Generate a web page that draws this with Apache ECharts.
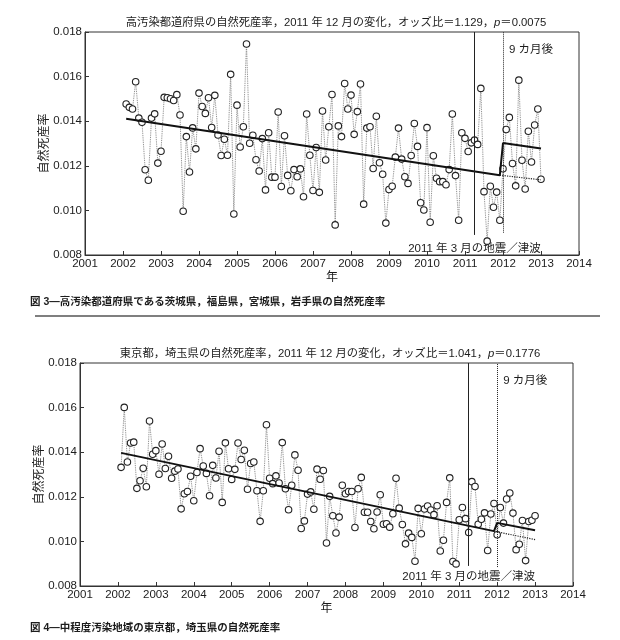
<!DOCTYPE html>
<html><head><meta charset="utf-8">
<script src="https://cdn.jsdelivr.net/npm/echarts@6/dist/echarts.min.js"></script>
<style>html,body{margin:0;padding:0;background:#fff}#c{width:620px;height:640px}</style>
</head><body><div id="c"></div>
<script>
// month m (1 = Jan 2002) is plotted at startYear + m/12
const startYear = 2002;
// 高汚染都道府県 (茨城・福島・宮城・岩手) monthly stillbirth rate, Jan 2002 – Dec 2012
const rateHigh = [
 0.01477,0.01462,0.01455,0.01577,0.01414,0.01395,0.01182,0.01135,0.01414,0.01433,0.01212,0.01265,
 0.01507,0.01505,0.01501,0.01493,0.01519,0.01428,0.00996,0.01331,0.01172,0.01370,0.01276,0.01526,
 0.01466,0.01435,0.01505,0.01372,0.01516,0.01338,0.01246,0.01319,0.01247,0.01610,0.00984,0.01472,
 0.01284,0.01375,0.01746,0.01301,0.01337,0.01227,0.01177,0.01322,0.01092,0.01348,0.01149,0.01149,
 0.01441,0.01107,0.01335,0.01157,0.01088,0.01183,0.01151,0.01186,0.01061,0.01432,0.01247,0.01089,
 0.01282,0.01081,0.01446,0.01226,0.01375,0.01520,0.00935,0.01379,0.01331,0.01569,0.01455,0.01517,
 0.01341,0.01443,0.01567,0.01028,0.01369,0.01375,0.01188,0.01422,0.01214,0.01162,0.00943,0.01094,
 0.01108,0.01239,0.01369,0.01230,0.01151,0.01121,0.01246,0.01390,0.01287,0.01034,0.01002,0.01371,
 0.00947,0.01245,0.01144,0.01129,0.01129,0.01115,0.01183,0.01432,0.01156,0.00956,0.01348,0.01323,
 0.01264,0.01303,0.01315,0.01296,0.01547,0.01084,0.00862,0.01108,0.01014,0.01082,0.00956,0.01187,
 0.01363,0.01417,0.01210,0.01110,0.01584,0.01225,0.01096,0.01355,0.01217,0.01383,0.01455,0.01140];
// 東京都・埼玉県 monthly stillbirth rate, Jan 2002 – Dec 2012
const rateMid = [
 0.01332,0.01601,0.01356,0.01441,0.01445,0.01238,0.01272,0.01328,0.01245,0.01540,0.01391,0.01407,
 0.01301,0.01437,0.01327,0.01382,0.01283,0.01315,0.01325,0.01146,0.01214,0.01224,0.01292,0.01182,
 0.01309,0.01416,0.01338,0.01305,0.01205,0.01341,0.01284,0.01404,0.01175,0.01442,0.01326,0.01278,
 0.01323,0.01441,0.01367,0.01409,0.01234,0.01349,0.01356,0.01227,0.01090,0.01227,0.01523,0.01283,
 0.01259,0.01294,0.01262,0.01443,0.01236,0.01142,0.01252,0.01388,0.01319,0.01058,0.01092,0.01212,
 0.01222,0.01144,0.01324,0.01279,0.01318,0.00993,0.01202,0.01115,0.01038,0.01109,0.01252,0.01214,
 0.01224,0.01224,0.01062,0.01236,0.01287,0.01131,0.01131,0.01089,0.01057,0.01132,0.01209,0.01077,
 0.01079,0.01064,0.01124,0.01283,0.01149,0.01076,0.00989,0.01037,0.01018,0.00911,0.01148,0.01034,
 0.01145,0.01159,0.01141,0.01120,0.01160,0.00957,0.01005,0.01175,0.01285,0.00910,0.00899,0.01097,
 0.01152,0.01102,0.01040,0.01268,0.01246,0.01077,0.01099,0.01128,0.00959,0.01123,0.01170,0.01030,
 0.01152,0.01082,0.01190,0.01217,0.01127,0.00963,0.00987,0.01094,0.00914,0.01089,0.01095,0.01115];
// fitted trend (solid) and no-change continuation (dotted)
const trendHighMonths = [1, 119, 120, 132];
const trendHighVals   = [0.01411, 0.01158, 0.01302, 0.01278];
const cfHighMonths = [119, 132];
const cfHighVals   = [0.01158, 0.01137];
const trendMidMonths = [1, 119, 120, 132];
const trendMidVals   = [0.01397, 0.01046, 0.01083, 0.01050];
const cfMidMonths = [119, 132];
const cfMidVals   = [0.01046, 0.01008];
// event lines: March 2011 earthquake, December 2011 (9 months later)
const quakeMonth = 111, laterMonth = 120;
const quakeLineLow = [0.0089, 0.0089];
const laterLineLow = [0.0090, 0.00885];
// axes
const yearMin = 2001, yearMax = 2014, yearStep = 1;
const rateMin = 0.008, rateMax = 0.018, rateStep = 0.002;
// texts
const titleHigh = ['高汚染都道府県の自然死産率，2011 年 12 月の変化，オッズ比＝1.129，', 'p', '＝0.0075'];
const titleMid  = ['東京都，埼玉県の自然死産率，2011 年 12 月の変化，オッズ比＝1.041，', 'p', '＝0.1776'];
const captionHigh = '図 3—高汚染都道府県である茨城県，福島県，宮城県，岩手県の自然死産率';
const captionMid  = '図 4—中程度汚染地域の東京都，埼玉県の自然死産率';
const quakeText = '2011 年 3 月の地震／津波';
const laterText = '9 カ月後';

const FONT = '"Liberation Sans", "Noto Sans CJK JP", sans-serif';
const INK = '#1c1c1c';
const xOf = m => startYear + m / 12;
const pairs = (ms, vs) => ms.map((m, i) => [xOf(m), vs[i]]);

const chart = echarts.init(document.getElementById('c'));
const grids = [
  {left: 85, right: 41, top: 32, height: 223, show: true, borderColor: '#333', borderWidth: 1},
  {left: 80, right: 47, top: 363, height: 223, show: true, borderColor: '#333', borderWidth: 1}
];
const mkX = (i) => ({
  gridIndex: i, type: 'value', min: yearMin, max: yearMax, interval: yearStep,
  name: '年', nameLocation: 'middle', nameGap: 17, nameMoveOverlap: false,
  nameTextStyle: {fontFamily: FONT, fontSize: 12, color: INK},
  axisLine: {show: true, lineStyle: {color: '#333', width: 1}},
  axisTick: {show: true, inside: true, length: 4, lineStyle: {color: '#333'}},
  axisLabel: {fontFamily: FONT, fontSize: 11.5, color: INK, margin: 3, formatter: v => String(v)},
  splitLine: {show: false}
});
const mkY = (i) => ({
  gridIndex: i, type: 'value', min: rateMin, max: rateMax, interval: rateStep,
  name: '自然死産率', nameLocation: 'middle', nameGap: 34, nameMoveOverlap: false,
  nameTextStyle: {fontFamily: FONT, fontSize: 12, color: INK},
  axisLine: {show: true, lineStyle: {color: '#333', width: 1}},
  axisTick: {show: true, inside: true, length: 4, lineStyle: {color: '#333'}},
  axisLabel: {fontFamily: FONT, fontSize: 11.5, color: INK, margin: 3, formatter: v => v.toFixed(3)},
  splitLine: {show: false}
});
const ptsSeries = (i, rates) => ({
  type: 'line', xAxisIndex: i, yAxisIndex: i,
  data: rates.map((v, k) => [xOf(k + 1), v]),
  symbol: 'circle', symbolSize: 6.5, showSymbol: true,
  itemStyle: {color: '#fff', borderColor: '#222', borderWidth: 1.1},
  lineStyle: {type: 'dotted', width: 0.9, color: '#777'},
  z: 3
});
const trendSeries = (i, ms, vs, idx) => ({
  type: 'line', xAxisIndex: i, yAxisIndex: i, data: pairs(ms, vs),
  symbol: 'none', lineStyle: {color: '#111', width: 2}, z: 4,
  markLine: {
    silent: true, symbol: 'none', label: {show: false},
    data: [
      [{coord: [xOf(quakeMonth), quakeLineLow[idx]], lineStyle: {type: 'solid', color: '#222', width: 1}},
       {coord: [xOf(quakeMonth), rateMax]}],
      [{coord: [xOf(laterMonth), laterLineLow[idx]], lineStyle: {type: 'dotted', color: '#222', width: 1}},
       {coord: [xOf(laterMonth), rateMax]}]
    ]
  }
});
const cfSeries = (i, ms, vs) => ({
  type: 'line', xAxisIndex: i, yAxisIndex: i, data: pairs(ms, vs),
  symbol: 'none', lineStyle: {color: '#222', width: 1.2, type: 'dotted'}, z: 4
});

chart.setOption({
  animation: false,
  backgroundColor: '#fff',
  grid: grids,
  xAxis: [mkX(0), mkX(1)],
  yAxis: [mkY(0), mkY(1)],
  series: [
    ptsSeries(0, rateHigh),
    trendSeries(0, trendHighMonths, trendHighVals, 0),
    cfSeries(0, cfHighMonths, cfHighVals),
    ptsSeries(1, rateMid),
    trendSeries(1, trendMidMonths, trendMidVals, 1),
    cfSeries(1, cfMidMonths, cfMidVals)
  ]
});

const titleRich = {
  n: {fontFamily: FONT, fontSize: 11.3, fill: INK},
  i: {fontFamily: FONT, fontSize: 11.3, fontStyle: 'italic', fill: INK}
};
const txt = (t, x, y, opts) => ({
  type: 'text', x: x, y: y,
  style: Object.assign({text: t, fontFamily: FONT, fontSize: 11.5, fill: INK, align: 'left', verticalAlign: 'middle'}, opts || {})
});

const p1q = chart.convertToPixel({xAxisIndex: 0, yAxisIndex: 0}, [xOf(quakeMonth), rateMin]);
const p1l = chart.convertToPixel({xAxisIndex: 0, yAxisIndex: 0}, [xOf(laterMonth), rateMax]);
const p2q = chart.convertToPixel({xAxisIndex: 1, yAxisIndex: 1}, [xOf(quakeMonth), rateMin]);
const p2l = chart.convertToPixel({xAxisIndex: 1, yAxisIndex: 1}, [xOf(laterMonth), rateMax]);

chart.setOption({
  graphic: [
    {type: 'text', x: 336, y: 23, style: {text: '{n|' + titleHigh[0] + '}{i|' + titleHigh[1] + '}{n|' + titleHigh[2] + '}', rich: titleRich, align: 'center', verticalAlign: 'middle'}},
    {type: 'text', x: 330, y: 354, style: {text: '{n|' + titleMid[0] + '}{i|' + titleMid[1] + '}{n|' + titleMid[2] + '}', rich: titleRich, align: 'center', verticalAlign: 'middle'}},
    txt(laterText, p1l[0] + 6, p1l[1] + 18),
    txt(laterText, p2l[0] + 6, p2l[1] + 18),
    txt(quakeText, p1q[0], p1q[1] - 6, {align: 'center'}),
    txt(quakeText, p2q[0], p2q[1] - 9, {align: 'center'}),
    txt(captionHigh, 30, 302, {fontSize: 10.5, fontWeight: 'bold'}),
    txt(captionMid, 30, 628, {fontSize: 10.5, fontWeight: 'bold'}),
    {type: 'line', shape: {x1: 35, y1: 316, x2: 600, y2: 316}, style: {stroke: '#555', lineWidth: 1.5}}
  ]
});
</script></body></html>
